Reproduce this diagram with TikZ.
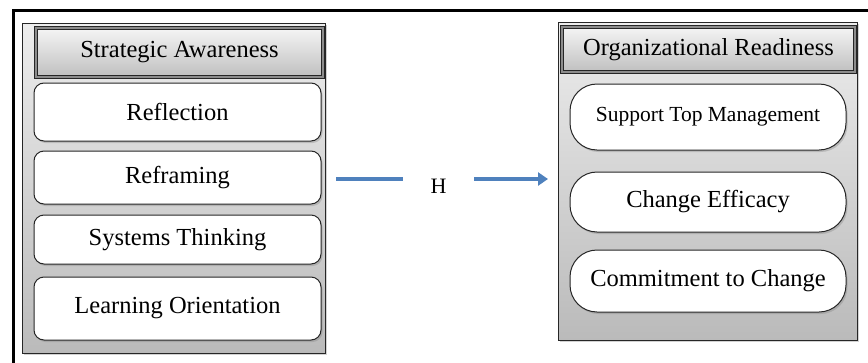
\documentclass[tikz,border=0pt]{standalone}
\usepackage{fontspec}
\setmainfont{Liberation Serif}
\usetikzlibrary{shadows,arrows.meta}
\definecolor{arrowblue}{RGB}{79,129,189}
\tikzset{
  panel/.style={draw=black!85, line width=1pt, top color=black!7, bottom color=black!27,
    minimum width=#1, inner sep=0pt, drop shadow={opacity=0.35, shadow xshift=2pt, shadow yshift=-2pt}},
  header/.style={draw=black!85, line width=0.8pt, double=black!45, double distance=1.6pt,
    top color=black!4, bottom color=black!25, inner sep=0pt,
    font=\fontsize{24.5}{27}\selectfont},
  itembox/.style={draw=black!85, line width=1pt, fill=white, inner sep=0pt,
    drop shadow={opacity=0.35, shadow xshift=1.5pt, shadow yshift=-2pt},
    font=\fontsize{24.5}{27}\selectfont},
  leftitem/.style={itembox, rounded corners=10pt, minimum width=287pt},
  rightitem/.style={itembox, rounded corners=27pt, minimum width=276pt},
  flow/.style={draw=arrowblue, line width=4.5pt},
}
\begin{document}
\begin{tikzpicture}[x=1pt,y=-1pt]
\useasboundingbox (0,0) rectangle (868,362);
\fill[white] (0,0) rectangle (868,362);
% outer frame (only top and left edges visible)
\draw[line width=3.5pt, line cap=rect] (868,10.5) -- (13.5,10.5) -- (13.5,362);

% left panel
\node[panel=303pt, minimum height=330pt] (lp) at (173.5,188) {};
\node[header, minimum width=287pt, minimum height=49pt] (lh) at (179.5,52.5) {Strategic Awareness};
\node[leftitem, minimum height=58pt] (l1) at (177.5,112) {Reflection};
\node[leftitem, minimum height=53pt] (l2) at (177.5,177.5) {Reframing};
\node[leftitem, minimum height=49pt] (l3) at (177.5,239.5) {Systems Thinking};
\node[leftitem, minimum height=63pt] (l4) at (177.5,308.5) {Learning Orientation};

% right panel
\node[panel=299pt, minimum height=318pt] (rp) at (707.5,181) {};
\node[header, minimum width=293pt, minimum height=45pt] (rh) at (708.5,49.5) {Organizational Readiness};
\node[rightitem, minimum height=66pt, font=\fontsize{21.5}{24}\selectfont] (r1) at (708,117) {Support Top Management};
\node[rightitem, minimum height=60pt] (r2) at (708,202) {Change Efficacy};
\node[rightitem, minimum height=62pt] (r3) at (708,281) {Commitment to Change};

% hypothesis connector
\coordinate (a1) at (336,179);
\coordinate (a2) at (403,179);
\coordinate (b1) at (474,179);
\coordinate (b2) at (548,179);
\node[font=\fontsize{22}{24}\selectfont] (h) at (438.5,186) {H};
\draw[flow] (a1) -- (a2);
\draw[flow, -{Triangle[length=10pt,width=13pt]}] (b1) -- (b2);
\end{tikzpicture}
\end{document}
